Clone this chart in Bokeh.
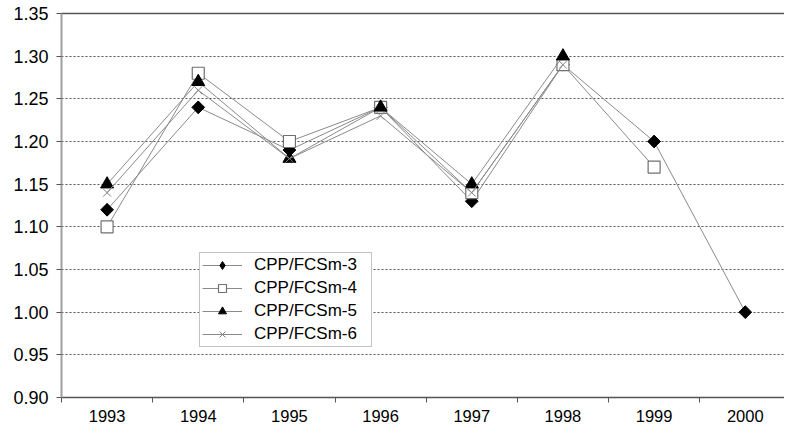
import numpy as np
from bokeh.plotting import figure
from bokeh.models import (Range1d, FixedTicker, LinearAxis, Legend, LegendItem,
                          NumeralTickFormatter, ColumnDataSource)
from bokeh.embed import file_html
from bokeh.resources import INLINE

years = ["1993", "1994", "1995", "1996", "1997", "1998", "1999", "2000"]
s3 = [1.12, 1.24, 1.19, 1.24, 1.13, 1.29, 1.20, 1.00]
s4 = [1.10, 1.28, 1.20, 1.24, 1.14, 1.29, 1.17]
s5 = [1.15, 1.27, 1.18, 1.24, 1.15, 1.30]
s6 = [1.14, 1.26, 1.18, 1.23, 1.14, 1.29]
names = ["CPP/FCSm-3", "CPP/FCSm-4", "CPP/FCSm-5", "CPP/FCSm-6"]
y_ticks = [0.90, 0.95, 1.00, 1.05, 1.10, 1.15, 1.20, 1.25, 1.30, 1.35]

FONT = "Liberation Sans"

p = figure(width=784, height=425, output_backend="svg", toolbar_location=None,
           x_range=Range1d(-0.5, 7.43), y_range=Range1d(0.90, 1.35),
           min_border_left=61, min_border_right=0, min_border_top=13,
           min_border_bottom=28)
p.outline_line_color = None
p.background_fill_color = "white"
p.border_fill_color = "white"

# axes
xa = p.xaxis[0]
xa.ticker = FixedTicker(ticks=list(range(len(years))),
                        minor_ticks=[i - 0.5 for i in range(len(years) + 1)])
xa.major_label_overrides = {i: y for i, y in enumerate(years)}
xa.major_tick_line_color = None
xa.minor_tick_line_color = "#555555"
xa.minor_tick_in = 0
xa.minor_tick_out = 5
xa.axis_line_color = "#555555"
xa.axis_line_width = 1.5
xa.major_label_text_font = FONT
xa.major_label_text_font_size = "16.5px"
xa.major_label_text_color = "black"
xa.major_label_standoff = 6

ya = p.yaxis[0]
ya.ticker = FixedTicker(ticks=y_ticks, minor_ticks=[])
ya.formatter = NumeralTickFormatter(format="0.00")
ya.axis_line_color = "#a0a0a0"
ya.axis_line_width = 2
ya.major_tick_line_color = "#555555"
ya.major_tick_in = 0
ya.major_tick_out = 5
ya.minor_tick_line_color = None
ya.major_label_text_font = FONT
ya.major_label_text_font_size = "18px"
ya.major_label_text_color = "black"
ya.major_label_standoff = 8

p.xgrid.grid_line_color = None
p.ygrid.grid_line_color = "#555555"
p.ygrid.grid_line_dash = "2 2"
p.ygrid.grid_line_width = 1

top = LinearAxis(ticker=FixedTicker(ticks=[]), axis_line_color="#555555",
                 axis_line_width=1.5, major_tick_line_color=None,
                 minor_tick_line_color=None, major_label_text_font_size="0px",
                 major_label_standoff=0)
p.add_layout(top, "above")

LINE = "#8a8a8a"
series = [s3, s4, s5, s6]
items = []
for i, s in enumerate(series):
    src = ColumnDataSource(dict(x=list(range(len(s))), y=s))
    ln = p.line("x", "y", source=src, line_color=LINE, line_width=1)
    if i == 0:
        # diamond used for the legend; hidden under the rotated square in the plot
        proxy = p.scatter("x", "y", source=src, marker="diamond", size=12,
                          fill_color="black", line_color="black")
        mk = p.scatter("x", "y", source=src, marker="square", size=9,
                       angle=np.pi / 4, fill_color="black", line_color="black")
        rends = [ln, proxy]
    elif i == 1:
        mk = p.scatter("x", "y", source=src, marker="square", size=12,
                       fill_color="white", line_color="#707070", line_width=1.2)
        rends = [ln, mk]
    elif i == 2:
        mk = p.scatter("x", "y", source=src, marker="triangle", size=13,
                       fill_color="black", line_color="black")
        rends = [ln, mk]
    else:
        mk = p.scatter("x", "y", source=src, marker="x", size=11,
                       line_color="#808080", line_width=1)
        rends = [ln, mk]
    items.append(LegendItem(label=names[i], renderers=rends))

legend = Legend(items=items, location=(138, 50), orientation="vertical",
                label_text_font=FONT, label_text_font_size="17px",
                label_text_color="black", glyph_width=40, glyph_height=20,
                label_height=20, label_width=115, spacing=3, padding=2, margin=0,
                border_line_color="#888888", border_line_width=1.5,
                background_fill_color="white", background_fill_alpha=1.0,
                label_standoff=12)
p.add_layout(legend, "center")

open("out.html", "w").write(file_html(p, INLINE))
